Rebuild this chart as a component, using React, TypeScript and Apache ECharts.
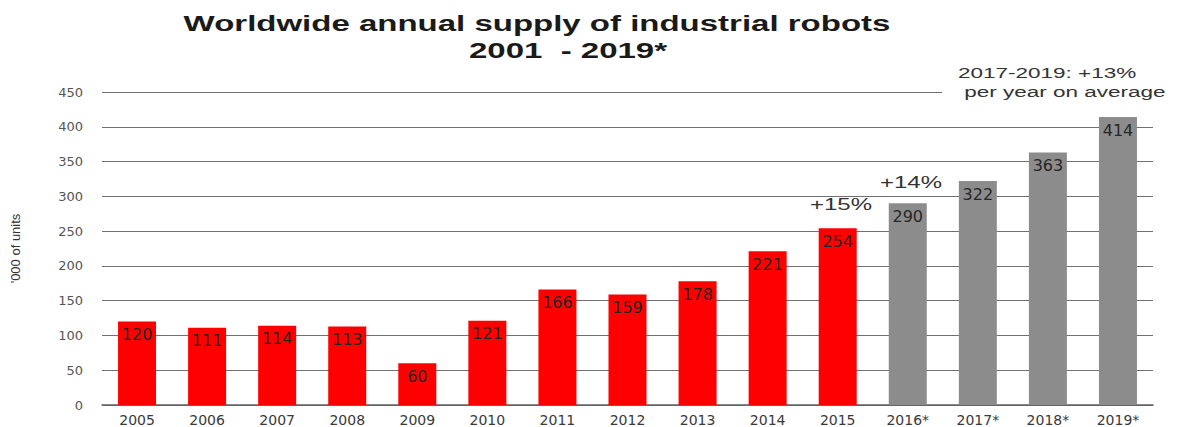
import React, { useEffect, useRef } from "react";
import * as echarts from "echarts";

const years = ["2005", "2006", "2007", "2008", "2009", "2010", "2011", "2012", "2013", "2014", "2015", "2016*", "2017*", "2018*", "2019*"];
const supply = [120, 111, 114, 113, 60, 121, 166, 159, 178, 221, 254, 290, 322, 363, 414];
const isForecast = [false, false, false, false, false, false, false, false, false, false, false, true, true, true, true];
const yTicks = { min: 0, max: 450, interval: 50 };
const titleLines = ["Worldwide annual supply of industrial robots", "2001  - 2019*"];
const yAxisName = "'000 of units";
const annotations = ["+15%", "+14%", "2017-2019: +13%", " per year on average"];

export default function App() {
  const ref = useRef<HTMLDivElement>(null);
  useEffect(() => {
    if (!ref.current) return;
    const chart = echarts.init(ref.current, undefined, { renderer: "svg" });
    const font = "Liberation Sans, Arial, sans-serif";
    const wide = "DejaVu Sans, Verdana, sans-serif";
    const stretch = 1.5;
    const titleStyle = { x: 0, y: 0, align: "center", fontSize: 22, fontWeight: "bold", fill: "#1a1a1a", fontFamily: font };
    chart.setOption({
      animation: false,
      backgroundColor: "#ffffff",
      textStyle: { fontFamily: wide },
      grid: { left: 102, right: 37, top: 92, bottom: 22, containLabel: false },
      xAxis: {
        type: "category",
        data: years,
        axisTick: { show: false },
        axisLine: { lineStyle: { color: "#606060", width: 1.5 } },
        axisLabel: { color: "#3a3a3a", fontSize: 14, margin: 8, interval: 0, fontFamily: wide },
      },
      yAxis: {
        type: "value",
        min: yTicks.min,
        max: yTicks.max,
        interval: yTicks.interval,
        name: yAxisName,
        nameLocation: "middle",
        nameRotate: 90,
        nameGap: 80,
        nameTextStyle: { fontSize: 13, color: "#333", fontFamily: font },
        axisLine: { show: false },
        axisTick: { show: false },
        axisLabel: { color: "#555", fontSize: 13, margin: 19, fontFamily: wide },
        splitLine: { lineStyle: { color: "#707070", width: 1.2 } },
      },
      series: [
        {
          type: "bar",
          barWidth: 38,
          data: supply.map((v, i) => ({
            value: v,
            itemStyle: { color: isForecast[i] ? "#8c8c8c" : "#ff0000" },
          })),
          label: {
            show: true,
            position: "insideTop",
            distance: 5,
            color: "#262626",
            fontSize: 16,
            fontFamily: wide,
          },
        },
      ],
      graphic: [
        { type: "text", x: 537, y: 13, scaleX: stretch, style: { ...titleStyle, text: titleLines[0] }, z: 11 },
        { type: "text", x: 568, y: 40, scaleX: stretch, style: { ...titleStyle, text: titleLines[1] }, z: 11 },
        { type: "rect", x: 942, y: 84, shape: { width: 248, height: 16 }, style: { fill: "#ffffff" }, z: 10 },
        {
          type: "text", x: 810, y: 197, scaleX: stretch,
          style: { text: annotations[0], x: 0, y: 0, fontSize: 16, fill: "#333", fontFamily: font }, z: 11,
        },
        {
          type: "text", x: 880, y: 175, scaleX: stretch,
          style: { text: annotations[1], x: 0, y: 0, fontSize: 16, fill: "#333", fontFamily: font }, z: 11,
        },
        {
          type: "text", x: 958, y: 65, scaleX: stretch,
          style: { text: annotations[2], x: 0, y: 0, fontSize: 15, fill: "#333", fontFamily: font }, z: 11,
        },
        {
          type: "text", x: 958, y: 84, scaleX: stretch,
          style: { text: annotations[3], x: 0, y: 0, fontSize: 15, fill: "#333", fontFamily: font }, z: 11,
        },
      ],
    });
    return () => chart.dispose();
  }, []);
  return <div ref={ref} style={{ width: 1190, height: 427, position: "absolute", left: 0, top: 0 }} />;
}
